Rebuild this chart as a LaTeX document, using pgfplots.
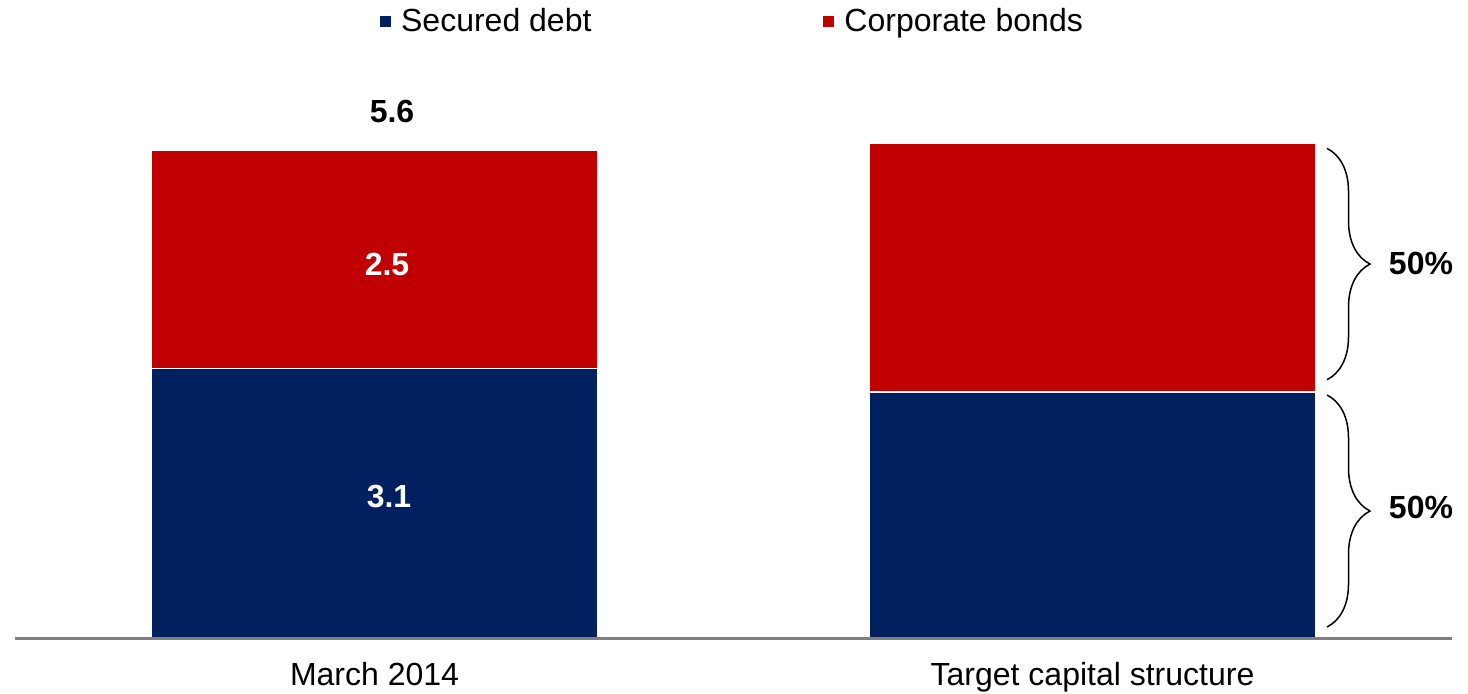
\documentclass[border=0pt]{standalone}
\usepackage{pgfplots}
\pgfplotsset{compat=1.18}
\usepackage{fontspec}
\setmainfont{Liberation Sans}
\usetikzlibrary{decorations.pathreplacing}
\definecolor{secblue}{RGB}{0,32,96}
\definecolor{corpred}{RGB}{192,0,0}
\begin{document}
\begin{tikzpicture}
\useasboundingbox (0,0) rectangle (734pt,347pt);
\begin{axis}[
  axis on top,
  at={(7.5pt,27.5pt)}, anchor=south west,
  scale only axis, width=718.5pt, height=319.5pt,
  xmin=15, xmax=1452, ymin=0, ymax=7.32,
  ybar stacked, bar width=223.5pt,
  axis y line=none,
  axis x line*=bottom,
  x axis line style={draw=gray, line width=1.5pt, -},
  xtick={374.5,1092.5},
  xticklabels={March 2014, Target capital structure},
  major tick length=0pt,
  xticklabel style={font=\fontsize{16}{19}\selectfont, yshift=-8pt},
  legend style={at={(rel axis cs:0.5,0.966)}, anchor=center, draw=none, fill=none,
    font=\fontsize{16}{19}\selectfont, legend columns=2,
    /tikz/every even column/.append style={column sep=114pt}},
  legend image code/.code={\fill[#1,draw=none] (0pt,-2.75pt) rectangle (5.5pt,2.75pt);
    \path[draw=none] (0pt,0pt) (8.5pt,0pt);},
  clip=false,
]
\addplot[fill=secblue, draw=white, line width=0.6pt] coordinates {(374.5,3.1) (1092.5,2.83)};
\addplot[fill=corpred, draw=white, line width=0.6pt] coordinates {(374.5,2.5) (1092.5,2.85)};
\legend{Secured debt, Corporate bonds}
\coordinate (l31) at (axis cs:389,1.63);
\coordinate (l25) at (axis cs:387,4.29);
\node[font=\fontsize{16}{19}\selectfont\bfseries] at (axis cs:392,6.04) {5.6};
\draw[line width=0.75pt, decorate, decoration={brace, amplitude=21.5pt}] (axis cs:1327,5.62) -- (axis cs:1327,2.97);
\draw[line width=0.75pt, decorate, decoration={brace, amplitude=21.5pt}] (axis cs:1327,2.795) -- (axis cs:1327,0.137);
\node[font=\fontsize{16}{19}\selectfont\bfseries] at (axis cs:1421,4.3) {50\%};
\node[font=\fontsize{16}{19}\selectfont\bfseries] at (axis cs:1421,1.51) {50\%};
\end{axis}
\node[font=\fontsize{16}{19}\selectfont\bfseries, text=white] at (l31) {3.1};
\node[font=\fontsize{16}{19}\selectfont\bfseries, text=white] at (l25) {2.5};
\end{tikzpicture}
\end{document}
